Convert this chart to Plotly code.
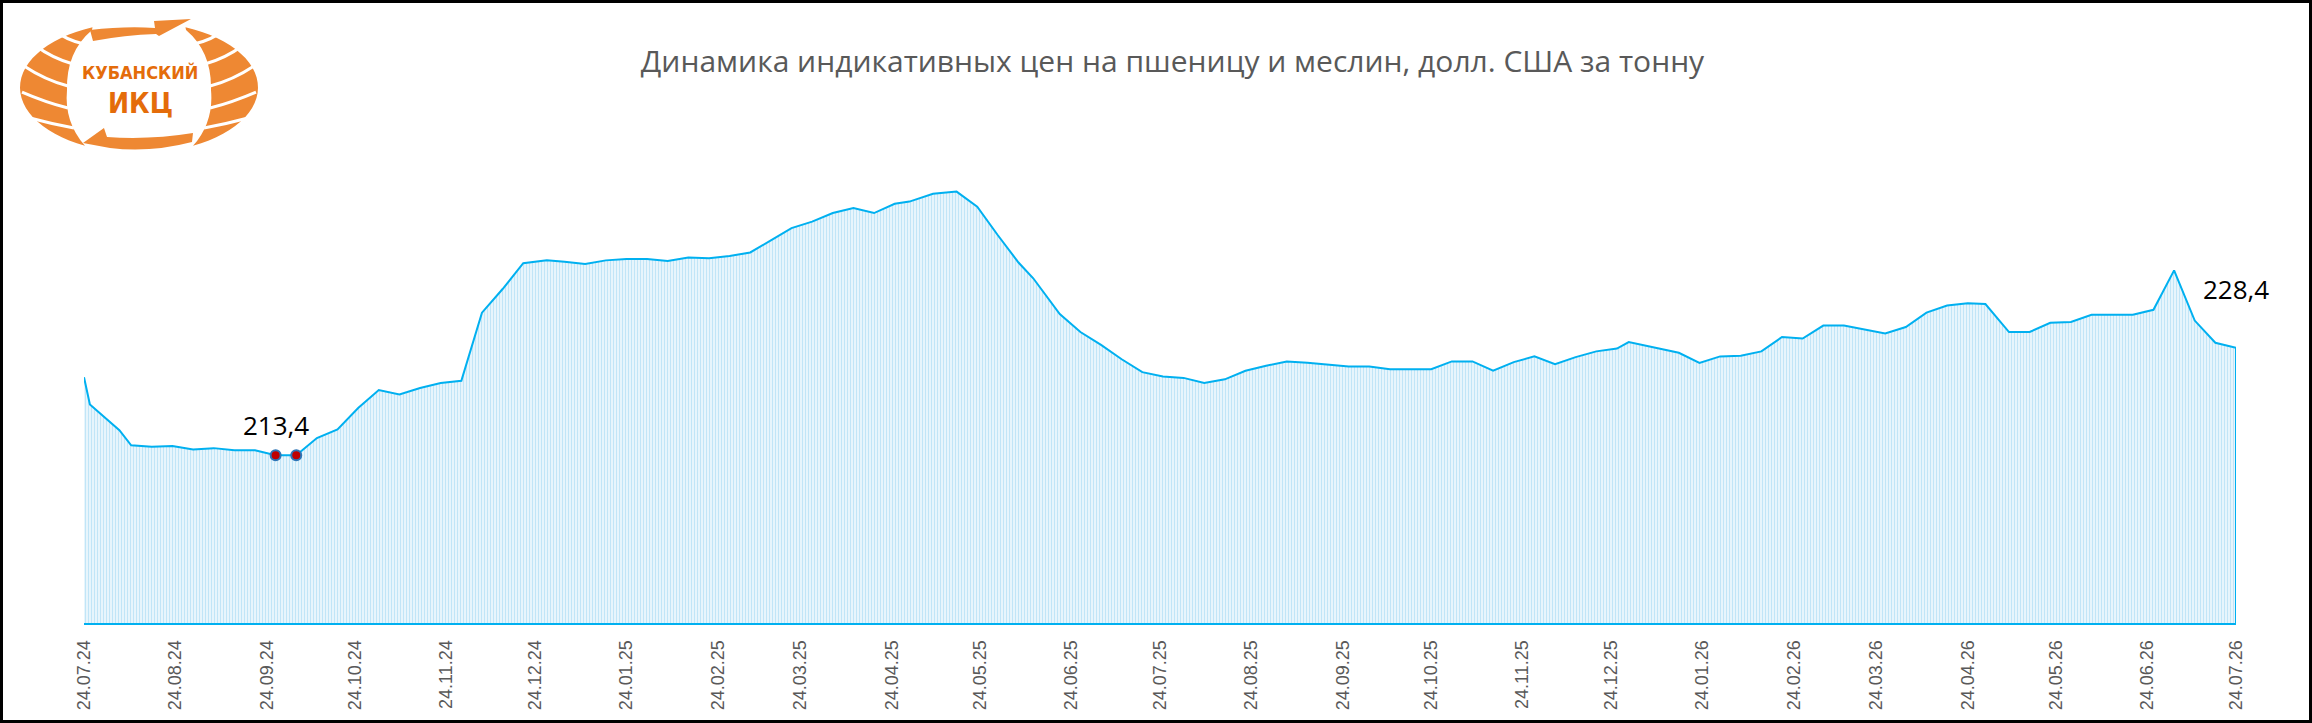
import numpy as np
import plotly.graph_objects as go

# Weekly indicative prices, USD per tonne
dates = [
    "2024-07-24", "2024-07-26", "2024-08-05", "2024-08-09", "2024-08-16", "2024-08-23",
    "2024-08-30", "2024-09-06", "2024-09-13", "2024-09-20", "2024-09-27", "2024-10-04",
    "2024-10-11", "2024-10-18", "2024-10-25", "2024-11-01", "2024-11-08", "2024-11-15",
    "2024-11-22", "2024-11-29", "2024-12-06", "2024-12-13", "2024-12-20", "2024-12-28",
    "2025-01-03", "2025-01-10", "2025-01-17", "2025-01-24", "2025-01-31", "2025-02-07",
    "2025-02-14", "2025-02-21", "2025-02-28", "2025-03-07", "2025-03-14", "2025-03-21",
    "2025-03-28", "2025-04-04", "2025-04-11", "2025-04-18", "2025-04-25", "2025-04-30",
    "2025-05-08", "2025-05-16", "2025-05-23", "2025-05-30", "2025-06-06", "2025-06-11",
    "2025-06-20", "2025-06-27", "2025-07-04", "2025-07-11", "2025-07-18", "2025-07-25",
    "2025-08-01", "2025-08-08", "2025-08-15", "2025-08-22", "2025-08-29", "2025-09-05",
    "2025-09-12", "2025-09-19", "2025-09-26", "2025-10-03", "2025-10-10", "2025-10-17",
    "2025-10-24", "2025-10-31", "2025-11-07", "2025-11-14", "2025-11-21", "2025-11-28",
    "2025-12-05", "2025-12-12", "2025-12-19", "2025-12-26", "2025-12-30", "2026-01-16",
    "2026-01-23", "2026-01-30", "2026-02-06", "2026-02-13", "2026-02-20", "2026-02-27",
    "2026-03-06", "2026-03-13", "2026-03-20", "2026-03-27", "2026-04-03", "2026-04-10",
    "2026-04-17", "2026-04-24", "2026-04-30", "2026-05-08", "2026-05-15", "2026-05-22",
    "2026-05-29", "2026-06-05", "2026-06-11", "2026-06-19", "2026-06-26", "2026-07-03",
    "2026-07-10", "2026-07-17", "2026-07-24",
]
prices = [
    224.3, 220.5, 216.9, 214.8, 214.6, 214.7,
    214.2, 214.4, 214.1, 214.1, 213.4, 213.4,
    215.8, 217.0, 220.0, 222.5, 221.9, 222.8,
    223.5, 223.8, 233.3, 236.6, 240.2, 240.6,
    240.4, 240.1, 240.6, 240.8, 240.8, 240.5,
    241.0, 240.9, 241.2, 241.7, 243.4, 245.1,
    246.0, 247.2, 247.9, 247.2, 248.5, 248.8,
    249.9, 250.2, 248.1, 244.1, 240.3, 238.1,
    233.1, 230.6, 228.8, 226.8, 225.0, 224.4,
    224.2, 223.5, 224.0, 225.2, 225.9, 226.5,
    226.3, 226.0, 225.8, 225.8, 225.4, 225.4,
    225.4, 226.5, 226.5, 225.2, 226.4, 227.2,
    226.1, 227.1, 227.9, 228.3, 229.2, 227.7,
    226.3, 227.2, 227.3, 227.9, 229.9, 229.7,
    231.5, 231.5, 231.0, 230.4, 231.3, 233.3,
    234.3, 234.6, 234.5, 230.6, 230.6, 231.9,
    232.0, 233.0, 233.0, 233.0, 233.7, 239.2,
    232.2, 229.1, 228.4,
]

title = "Динамика индикативных цен на пшеницу и меслин, долл. США за тонну"
y_min, y_max = 190, 256
blue = "#00B0F0"

W, H = 2312, 723
ML, MR, MT, MB = 84, 76, 150, 100
PW, PH = W - ML - MR, H - MT - MB


def paper(x, y):
    # figure pixels (y down) -> paper coords
    return (x - ML) / PW, (H - MB - y) / PH


def path_of(pts, closed=True):
    s = ""
    for cmd, *xy in pts:
        coords = []
        for j in range(0, len(xy), 2):
            px, py = paper(xy[j], xy[j + 1])
            coords.append(f"{px:.5f},{py:.5f}")
        s += f"{cmd} " + " ".join(coords) + " "
    return s + ("Z" if closed else "")


def mirror(pts, cx=139):
    out = []
    for cmd, *xy in pts:
        new = []
        for j in range(0, len(xy), 2):
            new += [2 * cx - xy[j], xy[j + 1]]
        out.append((cmd, *new))
    return out


fig = go.Figure()

fig.add_trace(go.Scatter(
    x=dates, y=prices,
    mode="lines",
    line=dict(color=blue, width=2),
    fill="tozeroy",
    fillcolor="white",
    fillpattern=dict(shape="|", size=3, solidity=0.6, fgcolor="#84CBF0", bgcolor="white"),
    hoverinfo="skip",
))

# closing edge of the area at the last date
fig.add_shape(type="line", xref="x", yref="y",
              x0=dates[-1], x1=dates[-1], y0=y_min, y1=prices[-1],
              line=dict(color=blue, width=2))

p_min = min(prices)
min_idx = [i for i, v in enumerate(prices) if v == p_min]
fig.add_trace(go.Scatter(
    x=[dates[i] for i in min_idx], y=[prices[i] for i in min_idx],
    mode="markers",
    marker=dict(size=10, color="#C00000", line=dict(color="#2E75B6", width=2)),
    hoverinfo="skip",
))


def fmt(v):
    return f"{v:.1f}".replace(".", ",")


fig.add_annotation(x=dates[min_idx[0]], y=p_min, text=fmt(p_min), showarrow=False,
                   yanchor="middle", yshift=30,
                   font=dict(family="Open Sans", size=26, color="black"))
fig.add_annotation(x=dates[-1], y=prices[-1], text=fmt(prices[-1]), showarrow=False,
                   yanchor="middle", yshift=59,
                   font=dict(family="Open Sans", size=26, color="black"))

# logo: two leafy crescents, two arrows, text
orange = "#EE8833"
ocx, ocy, oa, ob = 139, 87.5, 119, 65.5
outer = [(ocx + oa * np.cos(t), ocy - ob * np.sin(t)) for t in np.radians(np.linspace(113, 243, 30))]
left = [("M", *outer[0])] + [("L", *p) for p in outer[1:]]
left += [("Q", 64, 122, 67, 90), ("Q", 66, 52, 92, 30)]
logo_paths = [left, mirror(left)]

top_arrow = [("M", 90, 30), ("Q", 125, 26, 155, 28), ("L", 154, 21), ("L", 191, 19),
             ("L", 159, 36), ("L", 156, 34), ("Q", 125, 35, 93, 41)]
bottom_arrow = [("M", 83, 143), ("L", 104, 128), ("L", 107, 137), ("Q", 150, 140, 193, 133),
                ("L", 192, 142), ("Q", 150, 153, 110, 148)]
logo_paths += [top_arrow, bottom_arrow]
for p in logo_paths:
    fig.add_shape(type="path", xref="paper", yref="paper", path=path_of(p),
                  fillcolor=orange, line=dict(width=0), layer="above")

# white grooves between leaves
grooves = [
    [("M", 84, 44), ("Q", 66, 40, 54, 30)],
    [("M", 73, 64), ("Q", 52, 58, 36, 46)],
    [("M", 68, 86), ("Q", 45, 80, 24, 66)],
    [("M", 68, 108), ("Q", 45, 102, 22, 92)],
    [("M", 74, 128), ("Q", 52, 124, 30, 118)],
]
for g in grooves + [mirror(g) for g in grooves]:
    fig.add_shape(type="path", xref="paper", yref="paper", path=path_of(g, closed=False),
                  line=dict(color="white", width=3), layer="above")

for txt, ypx, size in [("КУБАНСКИЙ", 72.5, 18), ("ИКЦ", 103, 28)]:
    xp, yp = paper(140, ypx)
    fig.add_annotation(xref="paper", yref="paper", x=xp, y=yp, text=f"<b>{txt}</b>",
                       showarrow=False, xanchor="center", yanchor="middle",
                       font=dict(family="DejaVu Sans Condensed", size=size, color="#E46C0A"))

# outer black frame
x0, y0 = paper(1.5, H - 1.5)
x1, y1 = paper(W - 1.5, 1.5)
fig.add_shape(type="rect", xref="paper", yref="paper", x0=x0, y0=y0, x1=x1, y1=y1,
              line=dict(color="black", width=3), layer="above")

fig.update_layout(
    width=W, height=H,
    margin=dict(l=ML, r=MR, t=MT, b=MB),
    paper_bgcolor="white", plot_bgcolor="white",
    showlegend=False,
    title=dict(text=title, x=1172.5 / W, xanchor="center", y=1 - 61 / H, yanchor="middle",
               font=dict(family="Open Sans", size=30, color="#595959")),
    xaxis=dict(
        type="date", range=["2024-07-24", "2026-07-24"],
        tick0="2024-07-24", dtick="M1", tickformat="%d.%m.%y", tickangle=-90,
        showgrid=False, zeroline=False, showline=True, linecolor=blue, linewidth=2,
        ticks="", ticklabelstandoff=8,
        tickfont=dict(family="Liberation Sans", size=18, color="#595959"),
    ),
    yaxis=dict(range=[y_min, y_max], visible=False, showgrid=False),
)

fig.write_html("out.html", config={"displayModeBar": False},
               post_script="document.body.style.margin = '0';")
